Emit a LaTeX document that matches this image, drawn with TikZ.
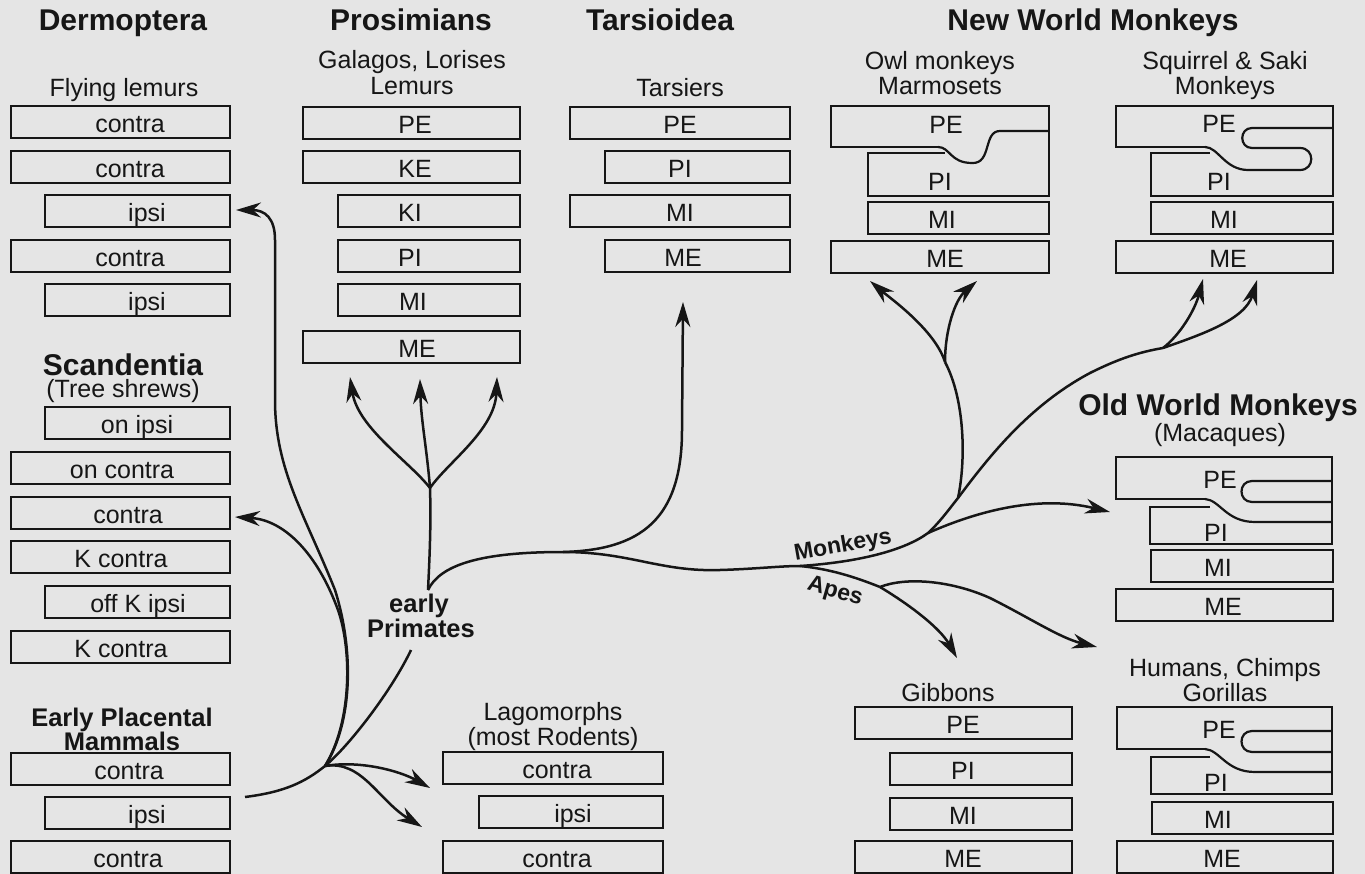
\documentclass[tikz,border=0pt]{standalone}
\usepackage{fontspec}
\setmainfont{Liberation Sans}
\usetikzlibrary{arrows.meta}
\definecolor{bg}{RGB}{229,229,229}
\definecolor{ink}{RGB}{22,22,22}
\newcommand\abox[6]{%
  \node[box, minimum width={(#3-#2)*1pt}] (#1) at ({(#2+#3)/2},#4) {};
  \node[btxt] (#1t) at (#6,#4+10.5) {#5};}
\begin{document}
\begin{tikzpicture}[x=1pt,y=-1pt,
  box/.style={draw=ink, line width=2.2pt, minimum height=32pt, inner sep=0pt},
  btxt/.style={anchor=base, inner sep=0pt, text=ink, font=\fontsize{25}{27}\selectfont},
  lbl/.style={anchor=base, inner sep=0pt, text=ink, font=\fontsize{25}{27}\selectfont},
  ttl/.style={anchor=base, inner sep=0pt, text=ink, font=\bfseries\fontsize{30}{32}\selectfont},
  sub/.style={anchor=base, inner sep=0pt, text=ink, font=\bfseries\fontsize{25.5}{27}\selectfont},
  br/.style={draw=ink, line width=2.5pt},
  arr/.style={br, -{Stealth[length=25pt,width=15pt,inset=8pt]}},
  shp/.style={draw=ink, line width=2.2pt, line join=miter}
]
\fill[bg] (0,0) rectangle (1365,874);
\useasboundingbox (0,0) rectangle (1365,874);

% ---------- titles ----------
\node[ttl] (tDer) at (123,31) {Dermoptera};
\node[ttl] (tPro) at (411,31) {Prosimians};
\node[ttl] (tTar) at (660,31) {Tarsioidea};
\node[ttl] (tNWM) at (1093,31) {New World Monkeys};
\node[ttl] (tSca) at (123,375) {Scandentia};
\node[ttl] (tOWM) at (1218,415) {Old World Monkeys};
\node[sub] (tEP1) at (122,726) {Early Placental};
\node[sub] (tEP2) at (122,750) {Mammals};

% ---------- sub labels ----------
\node[lbl] (lFly) at (124,97) {Flying lemurs};
\node[lbl] (lGal) at (412,69) {Galagos, Lorises};
\node[lbl] (lLem) at (412,95) {Lemurs};
\node[lbl] (lTrs) at (680,97) {Tarsiers};
\node[lbl] (lOwl) at (940,70) {Owl monkeys};
\node[lbl] (lMar) at (940,95) {Marmosets};
\node[lbl] (lSqu) at (1225,70) {Squirrel \& Saki};
\node[lbl] (lSqM) at (1225,95) {Monkeys};
\node[lbl] (lTre) at (123,397) {(Tree shrews)};
\node[lbl] (lMac) at (1220,441) {(Macaques)};
\node[lbl] (lGib) at (948,701) {Gibbons};
\node[lbl] (lHum) at (1225,676) {Humans, Chimps};
\node[lbl] (lGor) at (1225,701) {Gorillas};
\node[lbl] (lLag) at (553,720) {Lagomorphs};
\node[lbl] (lRod) at (553,745) {(most Rodents)};

% ---------- Dermoptera ----------
\abox{d1}{11}{230}{122}{contra}{130}
\abox{d2}{11}{230}{167}{contra}{130}
\abox{d3}{45}{230}{211}{ipsi}{147}
\abox{d4}{11}{230}{256}{contra}{130}
\abox{d5}{45}{230}{300}{ipsi}{147}
% ---------- Scandentia ----------
\abox{s1}{45}{230}{423}{on ipsi}{137}
\abox{s2}{11}{230}{468}{on contra}{122}
\abox{s3}{11}{230}{513}{contra}{128}
\abox{s4}{11}{230}{557}{K contra}{121}
\abox{s5}{45}{230}{602}{off K ipsi}{138}
\abox{s6}{11}{230}{647}{K contra}{121}
% ---------- Early placental ----------
\abox{e1}{11}{230}{769}{contra}{129}
\abox{e2}{45}{230}{813}{ipsi}{147}
\abox{e3}{11}{230}{857}{contra}{128}
% ---------- Prosimians ----------
\abox{p1}{303}{520}{123}{PE}{415}
\abox{p2}{303}{520}{167}{KE}{415}
\abox{p3}{338}{520}{211}{KI}{410}
\abox{p4}{338}{520}{256}{PI}{410}
\abox{p5}{338}{520}{300}{MI}{413}
\abox{p6}{303}{520}{347}{ME}{417}
% ---------- Tarsiers ----------
\abox{t1}{570}{790}{123}{PE}{680}
\abox{t2}{605}{790}{167}{PI}{680}
\abox{t3}{570}{790}{211}{MI}{680}
\abox{t4}{605}{790}{256}{ME}{683}
% ---------- Owl monkeys / Marmosets ----------
\draw[shp] (938,147) -- (831,147) -- (831,106) -- (1049,106) -- (1049,196) -- (868,196) -- (868,153) -- (945,153);
\draw[shp] (938,147) .. controls (950,147) and (950,163) .. (972,163) .. controls (992,164) and (983,131) .. (1000,131) -- (1049,131);
\node[btxt] (n1pe) at (946,133.5) {PE};
\node[btxt] (n1pi) at (940,191) {PI};
\abox{n1mi}{868}{1049}{218}{MI}{942}
\abox{n1me}{831}{1049}{257}{ME}{945}
% ---------- Squirrel & Saki ----------
\draw[shp] (1205,147) -- (1116,147) -- (1116,106) -- (1333,106) -- (1333,196) -- (1151,196) -- (1151,153) -- (1210,153);
\draw[shp] (1205,147) .. controls (1218,147) and (1225,170) .. (1248,170) -- (1300,170)
   .. controls (1315,170) and (1315,148) .. (1300,148) -- (1252,148)
   .. controls (1239,148) and (1239,128) .. (1252,128) -- (1333,128);
\node[btxt] (n2pe) at (1219,132.5) {PE};
\node[btxt] (n2pi) at (1219,191) {PI};
\abox{n2mi}{1151}{1333}{218}{MI}{1224}
\abox{n2me}{1116}{1333}{257}{ME}{1228}
% ---------- Old World Monkeys ----------
\draw[shp] (1205,499) -- (1116,499) -- (1116,457) -- (1332,457) -- (1332,544) -- (1150,544) -- (1150,507) -- (1210,507);
\draw[shp] (1205,499) .. controls (1220,500) and (1226,522) .. (1255,522) -- (1332,522);
\draw[shp] (1332,481) -- (1252,481) .. controls (1238,481) and (1238,502) .. (1252,502) -- (1332,502);
\node[btxt] (o1pe) at (1220,488.5) {PE};
\node[btxt] (o1pi) at (1216,541) {PI};
\abox{o1mi}{1151}{1333}{566}{MI}{1218}
\abox{o1me}{1116}{1333}{605}{ME}{1223}
% ---------- Humans, Chimps, Gorillas ----------
\draw[shp] (1205,749) -- (1117,749) -- (1117,707) -- (1332,707) -- (1332,794) -- (1151,794) -- (1151,757) -- (1210,757);
\draw[shp] (1205,749) .. controls (1220,750) and (1226,772) .. (1255,772) -- (1332,772);
\draw[shp] (1332,731) -- (1252,731) .. controls (1238,731) and (1238,752) .. (1252,752) -- (1332,752);
\node[btxt] (h1pe) at (1219,738.5) {PE};
\node[btxt] (h1pi) at (1216,791) {PI};
\abox{h1mi}{1152}{1333}{818}{MI}{1218}
\abox{h1me}{1117}{1333}{857}{ME}{1222}
% ---------- Gibbons ----------
\abox{g1}{855}{1072}{723}{PE}{963}
\abox{g2}{890}{1072}{769}{PI}{963}
\abox{g3}{890}{1072}{814}{MI}{963}
\abox{g4}{855}{1072}{857}{ME}{963}
% ---------- Lagomorphs ----------
\abox{l1}{443}{663}{768}{contra}{557}
\abox{l2}{479}{663}{812}{ipsi}{573}
\abox{l3}{443}{663}{857}{contra}{557}

% ---------- tree coordinates ----------
\coordinate (st) at (245,797);
\coordinate (root) at (325,766);
\coordinate (lag1) at (430,788);
\coordinate (lag2) at (422,827);
\coordinate (tdi) at (236,210);
\coordinate (tsc) at (235,517);
\coordinate (epb) at (411,650);
\coordinate (ept) at (428,590);
\coordinate (pf) at (430,488);
\coordinate (pr1) at (350,377);
\coordinate (pr2) at (420,379);
\coordinate (pr3) at (497,377);
\coordinate (tb) at (563,552);
\coordinate (tt) at (683,302);
\coordinate (mf) at (800,566);
\coordinate (om) at (928,533);
\coordinate (nw) at (958,498);
\coordinate (ow) at (945,362);
\coordinate (ow1) at (870,281);
\coordinate (ow2) at (977,281);
\coordinate (sq) at (1163,348);
\coordinate (sq1) at (1203,279);
\coordinate (sq2) at (1257,280);
\coordinate (owt) at (1110,512);
\coordinate (ap) at (880,587);
\coordinate (gib) at (957,658);
\coordinate (hum) at (1097,647);

% ---------- tree ----------
\draw[br] (st) .. controls (285,792) and (305,782) .. (root);
\draw[arr] (root) .. controls (360,760) and (400,771) .. (lag1);
\draw[arr] (root) .. controls (362,760) and (378,800) .. (lag2);
\draw[arr] (root) .. controls (353,722) and (354,650) .. (335,590) .. controls (305,515) and (275,470) .. (275,400) -- (275,240) .. controls (275,218) and (265,210) .. (tdi);
\draw[arr] (root) .. controls (352,722) and (352,650) .. (338,610) .. controls (318,555) and (285,520) .. (tsc);
\draw[br] (root) .. controls (350,745) and (392,690) .. (epb);
\node[sub] (ep1) at (419,612) {early};
\node[sub] (ep2) at (421,637) {Primates};
\draw[br] (ept) .. controls (430,550) and (431,520) .. (pf);
\draw[arr] (pf) .. controls (410,462) and (358,428) .. (pr1);
\draw[arr] (pf) .. controls (427,450) and (421,420) .. (pr2);
\draw[arr] (pf) .. controls (448,462) and (495,430) .. (pr3);
\draw[br] (ept) .. controls (440,565) and (480,552) .. (tb) .. controls (630,552) and (660,572) .. (720,570) .. controls (755,569) and (780,566) .. (mf);
\draw[arr] (tb) .. controls (640,550) and (682,520) .. (682,430) -- (tt);
\draw[br] (mf) .. controls (860,562) and (905,550) .. (om) .. controls (940,522) and (950,508) .. (nw) .. controls (990,455) and (1030,405) .. (1090,373) .. controls (1120,358) and (1140,352) .. (sq);
\draw[br] (nw) .. controls (966,460) and (965,400) .. (ow);
\draw[arr] (ow) .. controls (935,330) and (890,298) .. (ow1);
\draw[arr] (ow) .. controls (945,330) and (955,300) .. (ow2);
\draw[arr] (sq) .. controls (1180,335) and (1195,310) .. (sq1);
\draw[arr] (sq) .. controls (1200,335) and (1245,320) .. (sq2);
\draw[arr] (om) .. controls (980,510) and (1040,495) .. (owt);
\draw[br] (mf) .. controls (830,569) and (855,577) .. (ap);
\draw[arr] (ap) .. controls (910,605) and (940,628) .. (gib);
\draw[arr] (ap) .. controls (905,577) and (950,580) .. (990,598) .. controls (1030,618) and (1060,638) .. (hum);
\node[sub, anchor=center, rotate=10, font=\bfseries\fontsize{23}{25}\selectfont] (lMon) at (843,546) {Monkeys};
\node[sub, anchor=center, rotate=-16, font=\bfseries\fontsize{23}{25}\selectfont] (lApe) at (835,592) {Apes};
\end{tikzpicture}
\end{document}
